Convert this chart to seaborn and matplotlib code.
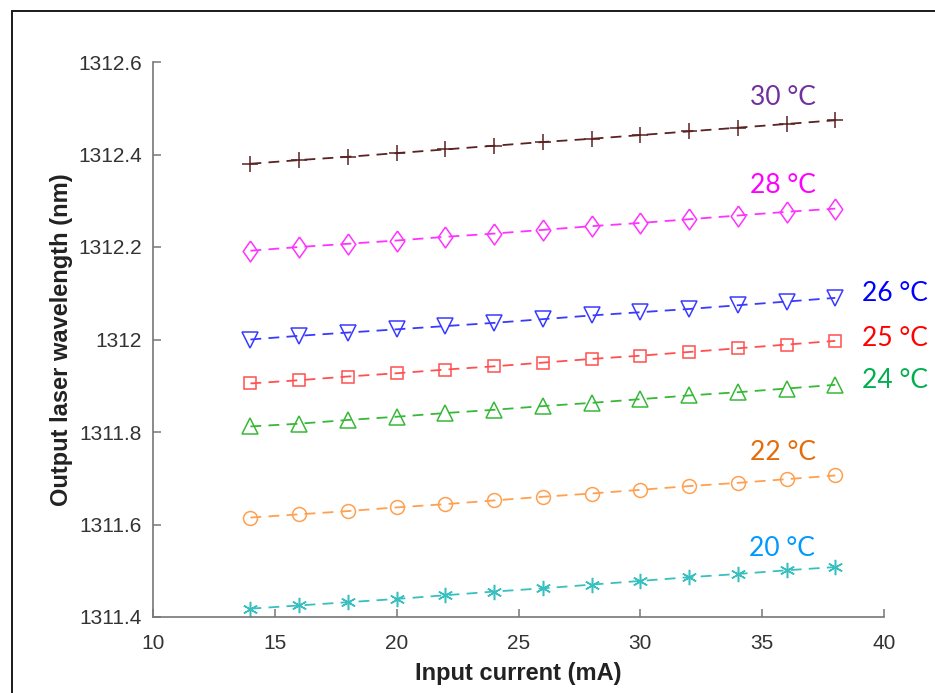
import matplotlib
matplotlib.use("Agg")
import matplotlib.pyplot as plt
from matplotlib.patches import Rectangle
import numpy as np
import pandas as pd
import seaborn as sns

# Input current (mA)
current = [14, 16, 18, 20, 22, 24, 26, 28, 30, 32, 34, 36, 38]

# Output wavelength (nm) at each chip temperature
wl_30 = [1312.380, 1312.388, 1312.395, 1312.403, 1312.411, 1312.419, 1312.427,
         1312.434, 1312.442, 1312.450, 1312.458, 1312.466, 1312.474]
wl_28 = [1312.192, 1312.200, 1312.207, 1312.214, 1312.222, 1312.229, 1312.237,
         1312.245, 1312.252, 1312.260, 1312.268, 1312.276, 1312.283]
wl_26 = [1312.000, 1312.008, 1312.015, 1312.022, 1312.029, 1312.036, 1312.044,
         1312.052, 1312.059, 1312.066, 1312.074, 1312.082, 1312.090]
wl_25 = [1311.905, 1311.912, 1311.920, 1311.927, 1311.935, 1311.942, 1311.950,
         1311.958, 1311.965, 1311.973, 1311.981, 1311.989, 1311.997]
wl_24 = [1311.812, 1311.818, 1311.826, 1311.833, 1311.841, 1311.848, 1311.856,
         1311.863, 1311.871, 1311.879, 1311.886, 1311.894, 1311.902]
wl_22 = [1311.615, 1311.622, 1311.629, 1311.637, 1311.644, 1311.652, 1311.660,
         1311.667, 1311.675, 1311.683, 1311.690, 1311.698, 1311.706]
wl_20 = [1311.418, 1311.425, 1311.432, 1311.439, 1311.447, 1311.455, 1311.462,
         1311.470, 1311.478, 1311.486, 1311.493, 1311.501, 1311.508]

temperatures = ["30 °C", "28 °C", "26 °C", "25 °C", "24 °C", "22 °C", "20 °C"]
series = [wl_30, wl_28, wl_26, wl_25, wl_24, wl_22, wl_20]

y_ticks = [1311.4, 1311.6, 1311.8, 1312.0, 1312.2, 1312.4, 1312.6]
y_tick_labels = ["1311.4", "1311.6", "1311.8", "1312", "1312.2", "1312.4", "1312.6"]
x_ticks = [10, 15, 20, 25, 30, 35, 40]

# diamond a little narrower than tall
diamond = [(0, 1), (0.7, 0), (0, -1), (-0.7, 0), (0, 1)]

# styling per temperature
line_colors = ["#5a2222", "#ff33ff", "#3a3aff", "#ff5050", "#38b838", "#ffa050", "#38c0c0"]
text_colors = ["#7030a0", "#ff00ff", "#0000ff", "#ff0000", "#00b050", "#e46c0a", "#0099ff"]
markers = ["+", diamond, "v", "s", "^", "o", (6, 2, 0)]
marker_sizes = [12, 15, 12, 9, 12, 10, 11]
label_pos = [(35.85, 1312.524, "center"), (35.85, 1312.334, "center"),
             (39.1, 1312.100, "left"), (39.1, 1312.003, "left"),
             (39.1, 1311.912, "left"), (35.85, 1311.755, "center"),
             (35.8, 1311.549, "center")]

sns.set_theme(style="white")
plt.rcParams["font.family"] = ["Liberation Sans", "DejaVu Sans"]

fig = plt.figure(figsize=(9.35, 6.93), dpi=100)
ax = fig.add_axes([153 / 935, 1 - 617 / 693, (884 - 153) / 935, (617 - 62) / 693])

frames = []
for t, vals in zip(temperatures, series):
    frames.append(pd.DataFrame({"current": current, "wavelength": vals, "temp": t}))
df = pd.concat(frames, ignore_index=True)

for i, t in enumerate(temperatures):
    sub = df[df["temp"] == t]
    sns.lineplot(data=sub, x="current", y="wavelength", ax=ax,
                 color=line_colors[i], linewidth=1.3, linestyle=(0, (6, 4)),
                 marker=markers[i], markersize=marker_sizes[i],
                 markerfacecolor="none", markeredgecolor=line_colors[i],
                 markeredgewidth=1.1, legend=False)
    lx, ly, ha = label_pos[i]
    ax.text(lx, ly, t, color=text_colors[i], fontsize=19, family="Lato",
            ha=ha, va="center", clip_on=False)

ax.set_xlim(10, 40)
ax.set_ylim(1311.4, 1312.6)
ax.set_xticks(x_ticks)
ax.set_xticklabels([str(v) for v in x_ticks])
ax.set_yticks(y_ticks)
ax.set_yticklabels(y_tick_labels)

for side in ["top", "right"]:
    ax.spines[side].set_visible(False)
for side in ["left", "bottom"]:
    ax.spines[side].set_color("#777777")
    ax.spines[side].set_linewidth(1.2)
ax.tick_params(direction="in", length=6, width=1.1, color="#777777",
               labelsize=15, labelcolor="#333333", left=True, bottom=True)
ax.tick_params(axis="x", pad=12)
ax.tick_params(axis="y", pad=8)

ax.set_xlabel("Input current (mA)", fontsize=17, fontweight="bold",
              color="#222222", labelpad=7)
ax.set_ylabel("Output laser wavelength (nm)", fontsize=17, fontweight="bold",
              color="#222222", labelpad=4)

# outer frame around the figure panel
fig.patches.append(Rectangle((12 / 935, -0.1), 1.2, 1 - 11 / 693 + 0.1,
                             transform=fig.transFigure, fill=False,
                             edgecolor="#1a1a1a", linewidth=1.4))

fig.savefig("out.png", dpi=100)
